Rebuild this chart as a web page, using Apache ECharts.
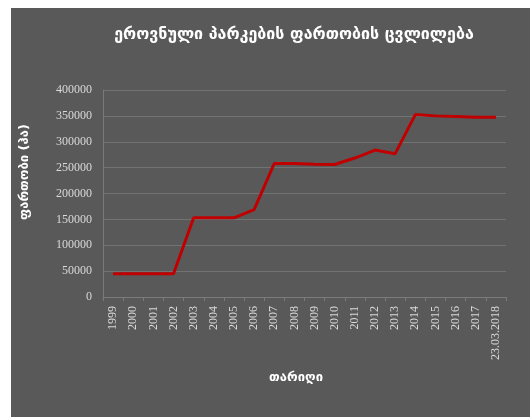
<!DOCTYPE html>
<html>
<head>
<meta charset="utf-8">
<script src="https://cdn.jsdelivr.net/npm/echarts@6/dist/echarts.min.js"></script>
<style>
  html, body { margin: 0; padding: 0; background: #ffffff; }
  #wrap { position: absolute; left: 0; top: 0; width: 530px; height: 417px; background: #ffffff; }
  #chart { position: absolute; left: 11px; top: 8px; width: 519px; height: 409px; background: #595959; }
</style>
</head>
<body>
<div id="wrap"><div id="chart"></div></div>
<script>
const categories = ['1999','2000','2001','2002','2003','2004','2005','2006','2007','2008','2009','2010','2011','2012','2013','2014','2015','2016','2017','23.03.2018'];
const areaValues = [45000,45000,45000,45000,153000,153000,153000,169000,258000,258000,256500,256000,268500,284000,277000,352500,350000,349000,347500,347500];
const titleText = 'ეროვნული პარკების ფართობის ცვლილება';
const yAxisName = 'ფართობი (ჰა)';
const xAxisName = 'თარიღი';

const chart = echarts.init(document.getElementById('chart'), null, { renderer: 'canvas' });
const georgianFont = '"DejaVu Sans", "Noto Sans", sans-serif';
const labelFont = '"Liberation Serif", "Times New Roman", serif';

chart.setOption({
  backgroundColor: '#595959',
  animation: false,
  grid: { left: 92, right: 24, top: 82, bottom: 120, containLabel: false },
  graphic: [
    { type: 'text', x: 283, y: 27, style: { text: titleText, fill: '#ffffff', font: 'bold 16px ' + georgianFont, textAlign: 'center', textVerticalAlign: 'middle' } },
    { type: 'text', x: 14, y: 164, rotation: Math.PI / 2, style: { text: yAxisName, fill: '#ffffff', font: 'bold 13px ' + georgianFont, textAlign: 'center', textVerticalAlign: 'middle' } },
    { type: 'text', x: 285, y: 370, style: { text: xAxisName, fill: '#ffffff', font: 'bold 13px ' + georgianFont, textAlign: 'center', textVerticalAlign: 'middle' } }
  ],
  xAxis: {
    type: 'category',
    data: categories,
    boundaryGap: true,
    axisLine: { show: true, lineStyle: { color: '#7a7a7a', width: 1 } },
    axisTick: { show: true, length: 4, lineStyle: { color: '#7a7a7a' } },
    axisLabel: { rotate: 90, interval: 0, margin: 9, color: '#d9d9d9', fontFamily: labelFont, fontSize: 12 },
    splitLine: { show: false }
  },
  yAxis: {
    type: 'value',
    min: 0,
    max: 400000,
    interval: 50000,
    axisLine: { show: true, lineStyle: { color: '#7a7a7a', width: 1 } },
    axisTick: { show: false },
    axisLabel: { margin: 11, color: '#d9d9d9', fontFamily: labelFont, fontSize: 12, formatter: function (v) { return String(v); } },
    splitLine: { show: true, lineStyle: { color: '#727272', width: 1 } }
  },
  series: [{
    type: 'line',
    data: areaValues,
    showSymbol: false,
    symbol: 'none',
    lineStyle: { color: '#c00000', width: 3 },
    itemStyle: { color: '#c00000' }
  }]
});
</script>
</body>
</html>
